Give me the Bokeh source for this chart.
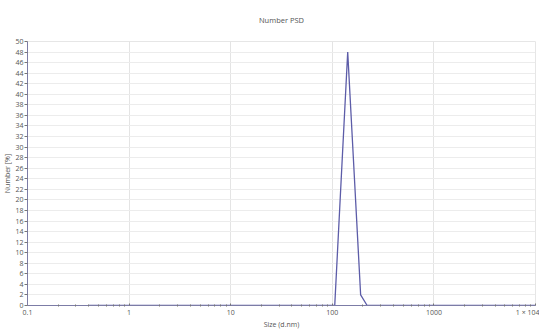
from bokeh.plotting import figure
from bokeh.models import FixedTicker, SingleIntervalTicker, Range1d
from bokeh.embed import file_html
from bokeh.resources import INLINE

# Size bins (d.nm) and Number [%]
sizes = [0.4, 91.28, 105.7, 122.4, 141.8, 164.2, 190.1, 220.2, 10000]
number_pct = [0, 0, 0, 24, 48, 25, 2, 0, 0]

x_ticks = [0.1, 1, 10, 100, 1000, 10000]
x_tick_labels = ["0.1", "1", "10", "100", "1000", "1 × 104"]
x_minor = [m * d for d in [0.1, 1, 10, 100, 1000] for m in range(2, 10)]

FONT = "Open Sans"
TXT = "#555555"

p = figure(frame_width=508, frame_height=264, x_axis_type="log", output_backend="svg",
           toolbar_location=None, x_range=Range1d(0.1, 10000), y_range=Range1d(0, 50),
           min_border_left=0, min_border_right=4, min_border_top=41, min_border_bottom=0)
p.background_fill_color = "white"
p.border_fill_color = "white"
p.outline_line_color = "#e6e6e6"

p.title.text = "Number PSD"
p.title.align = "center"
p.title.vertical_align = "top"
p.title.text_font = FONT
p.title.text_font_size = "7.5px"
p.title.text_font_style = "normal"
p.title.text_color = TXT
p.title.standoff = 29

p.line(sizes, number_pct, line_color="#5c5ca8", line_width=1.3)

xa = p.xaxis[0]
xa.ticker = FixedTicker(ticks=x_ticks, minor_ticks=x_minor)
xa.major_label_overrides = {t: l for t, l in zip(x_ticks, x_tick_labels)}
xa.axis_label = "Size (d.nm)"
ya = p.yaxis[0]
ya.ticker = SingleIntervalTicker(interval=2, num_minor_ticks=0)
ya.axis_label = "Number [%]"

for ax in (xa, ya):
    ax.axis_line_color = "#7c7ca6"
    ax.major_tick_line_color = "#777777"
    ax.minor_tick_line_color = "#777777"
    ax.major_label_text_font = FONT
    ax.major_label_text_font_size = "7px"
    ax.major_label_text_color = TXT
    ax.axis_label_text_font = FONT
    ax.axis_label_text_font_size = "7px"
    ax.axis_label_text_font_style = "normal"
    ax.axis_label_text_color = TXT
    ax.axis_label_standoff = 0
    ax.major_label_standoff = 1

xa.major_tick_in = 2
xa.major_tick_out = 0
xa.minor_tick_in = 1
xa.minor_tick_out = 1
ya.major_tick_in = 0
ya.major_tick_out = 3

p.xgrid.grid_line_color = "#e4e4e4"
p.ygrid.grid_line_color = "#ececec"
p.xgrid.ticker = FixedTicker(ticks=x_ticks)
p.ygrid.ticker = SingleIntervalTicker(interval=2)

open("out.html", "w").write(file_html(p, INLINE))
